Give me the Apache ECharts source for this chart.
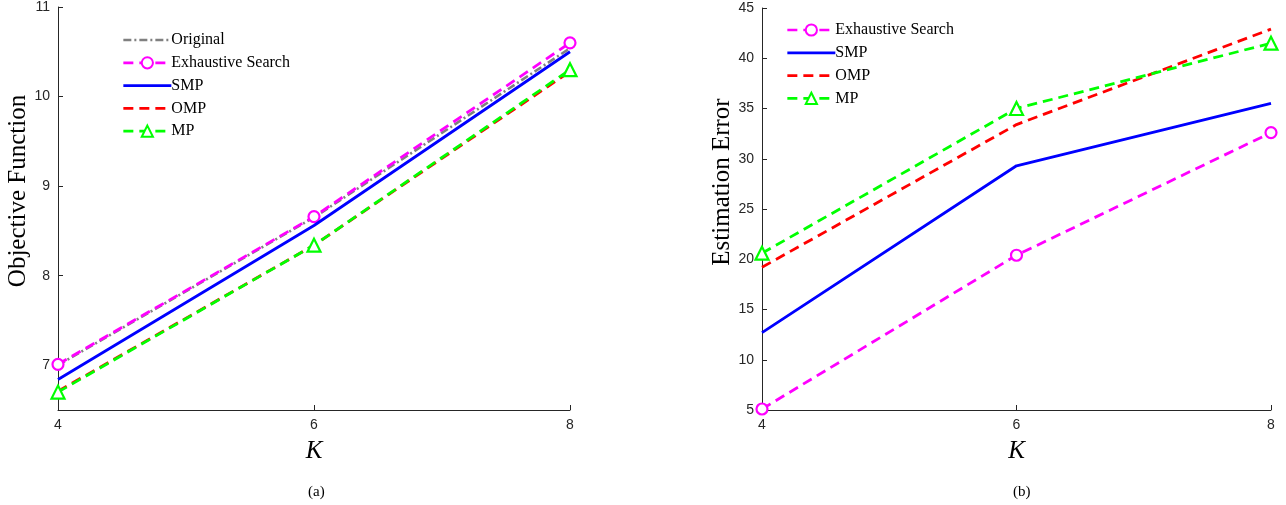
<!DOCTYPE html>
<html>
<head>
<meta charset="utf-8">
<script src="https://cdn.jsdelivr.net/npm/echarts@6/dist/echarts.min.js"></script>
<style>
html,body{margin:0;padding:0;background:#fff;}
#chart{width:1286px;height:505px;}
</style>
</head>
<body>
<div id="chart"></div>
<script>
// ---- data ----
const kValues = [4, 6, 8];
const xTicks = [4, 6, 8];
const objTicks = [7, 8, 9, 10, 11];
const errTicks = [5, 10, 15, 20, 25, 30, 35, 40, 45];

const objOriginal   = [7.00, 8.65, 10.54];
const objExhaustive = [7.01, 8.66, 10.60];
const objSMP        = [6.84, 8.56, 10.50];
const objOMP        = [6.71, 8.34, 10.28];
const objMP         = [6.70, 8.34, 10.30];

const errExhaustive = [5.1, 20.4, 32.6];
const errSMP        = [12.7, 29.3, 35.5];
const errOMP        = [19.2, 33.4, 42.9];
const errMP         = [20.6, 35.0, 41.5];

const pairs = (ys) => kValues.map((k, i) => [k, ys[i]]);

const axisColor = '#262626';
const tickFont = { fontFamily: 'Liberation Sans, Arial, sans-serif', fontSize: 14, color: axisColor };
const serif = 'Liberation Serif, Times New Roman, serif';

function xAxisDef(gridIndex) {
  return {
    type: 'value', gridIndex, min: 4, max: 8, interval: 2,
    name: 'K', nameLocation: 'middle', nameGap: 29,
    nameTextStyle: { fontFamily: serif, fontStyle: 'italic', fontSize: 25, color: '#000' },
    axisLine: { show: true, lineStyle: { color: axisColor, width: 1 } },
    axisTick: { show: true, inside: true, length: 5, lineStyle: { color: axisColor } },
    axisLabel: Object.assign({ margin: 8 }, tickFont),
    splitLine: { show: false }
  };
}
function yAxisDef(gridIndex, min, max, ticks, name, shift) {
  return {
    type: 'value', gridIndex, min, max,
    name, nameLocation: 'middle', nameGap: 27,
    nameTextStyle: { fontFamily: serif, fontSize: 25, color: '#000', padding: [0, 0, 0, shift] },
    axisLine: { show: true, lineStyle: { color: axisColor, width: 1 } },
    axisTick: { show: true, inside: true, length: 5, lineStyle: { color: axisColor }, customValues: ticks },
    axisLabel: Object.assign({ margin: 8, customValues: ticks }, tickFont),
    splitLine: { show: false }
  };
}

function lineSeries(name, data, xi, color, type, width, symbol, symbolSize, z) {
  return {
    name, type: 'line', xAxisIndex: xi, yAxisIndex: xi, data: pairs(data),
    symbol: symbol || 'none', symbolSize: symbolSize || 0, showSymbol: !!symbol,
    lineStyle: { color, width, type },
    itemStyle: { color: '#fff', borderColor: color, borderWidth: 2.2 },
    emphasis: { disabled: true },
    z: z, animation: false
  };
}

const markerNames = ['Exhaustive Search', 'MP'];
function legendItems(names, suffix) {
  return names.map(n => markerNames.indexOf(n) >= 0
    ? { name: n + suffix }
    : { name: n + suffix, itemStyle: { opacity: 0 } });
}

const option = {
  animation: false,
  grid: [
    { left: 58, top: 7, width: 512, height: 403 },
    { left: 762, top: 8, width: 509, height: 402 }
  ],
  xAxis: [xAxisDef(0), xAxisDef(1)],
  yAxis: [
    yAxisDef(0, 6.5, 11, objTicks, 'Objective Function', 35),
    yAxisDef(1, 5, 45, errTicks, 'Estimation Error', 54)
  ],
  title: [
    { text: '(a)', left: 303, top: 480, textStyle: { fontFamily: serif, fontSize: 15, fontWeight: 'normal', color: '#000' } },
    { text: '(b)', left: 1008, top: 480, textStyle: { fontFamily: serif, fontSize: 15, fontWeight: 'normal', color: '#000' } }
  ],
  legend: [
    {
      data: legendItems(['Original', 'Exhaustive Search', 'SMP', 'OMP', 'MP'], ' '),
      orient: 'vertical', left: 117, top: 27, itemWidth: 48, itemHeight: 14, itemGap: 6.8,
      lineStyle: { width: 2.7 },
      textStyle: { fontFamily: serif, fontSize: 16, color: '#000', padding: [0, 0, 0, -5] },
      selectedMode: false
    },
    {
      data: legendItems(['Exhaustive Search', 'SMP', 'OMP', 'MP'], ''),
      orient: 'vertical', left: 781, top: 17, itemWidth: 48, itemHeight: 14, itemGap: 6.8,
      lineStyle: { width: 2.7 },
      textStyle: { fontFamily: serif, fontSize: 16, color: '#000', padding: [0, 0, 0, -5] },
      selectedMode: false
    }
  ],
  series: [
    lineSeries('Original ', objOriginal, 0, '#808080', [8, 3, 2, 3], 2.6, null, 0, 2),
    lineSeries('Exhaustive Search ', objExhaustive, 0, '#FF00FF', [10, 6], 2.8, 'circle', 11, 3),
    lineSeries('SMP ', objSMP, 0, '#0000FF', 'solid', 2.8, null, 0, 4),
    lineSeries('OMP ', objOMP, 0, '#FF0000', [10, 6], 2.8, null, 0, 5),
    lineSeries('MP ', objMP, 0, '#00FF00', [10, 6], 2.8, 'triangle', 13, 6),
    lineSeries('Exhaustive Search', errExhaustive, 1, '#FF00FF', [10, 6], 2.8, 'circle', 11, 3),
    lineSeries('SMP', errSMP, 1, '#0000FF', 'solid', 2.8, null, 0, 4),
    lineSeries('OMP', errOMP, 1, '#FF0000', [10, 6], 2.8, null, 0, 5),
    lineSeries('MP', errMP, 1, '#00FF00', [10, 6], 2.8, 'triangle', 13, 6)
  ]
};

const chart = echarts.init(document.getElementById('chart'), null, { renderer: 'canvas' });
chart.setOption(option);
</script>
</body>
</html>
